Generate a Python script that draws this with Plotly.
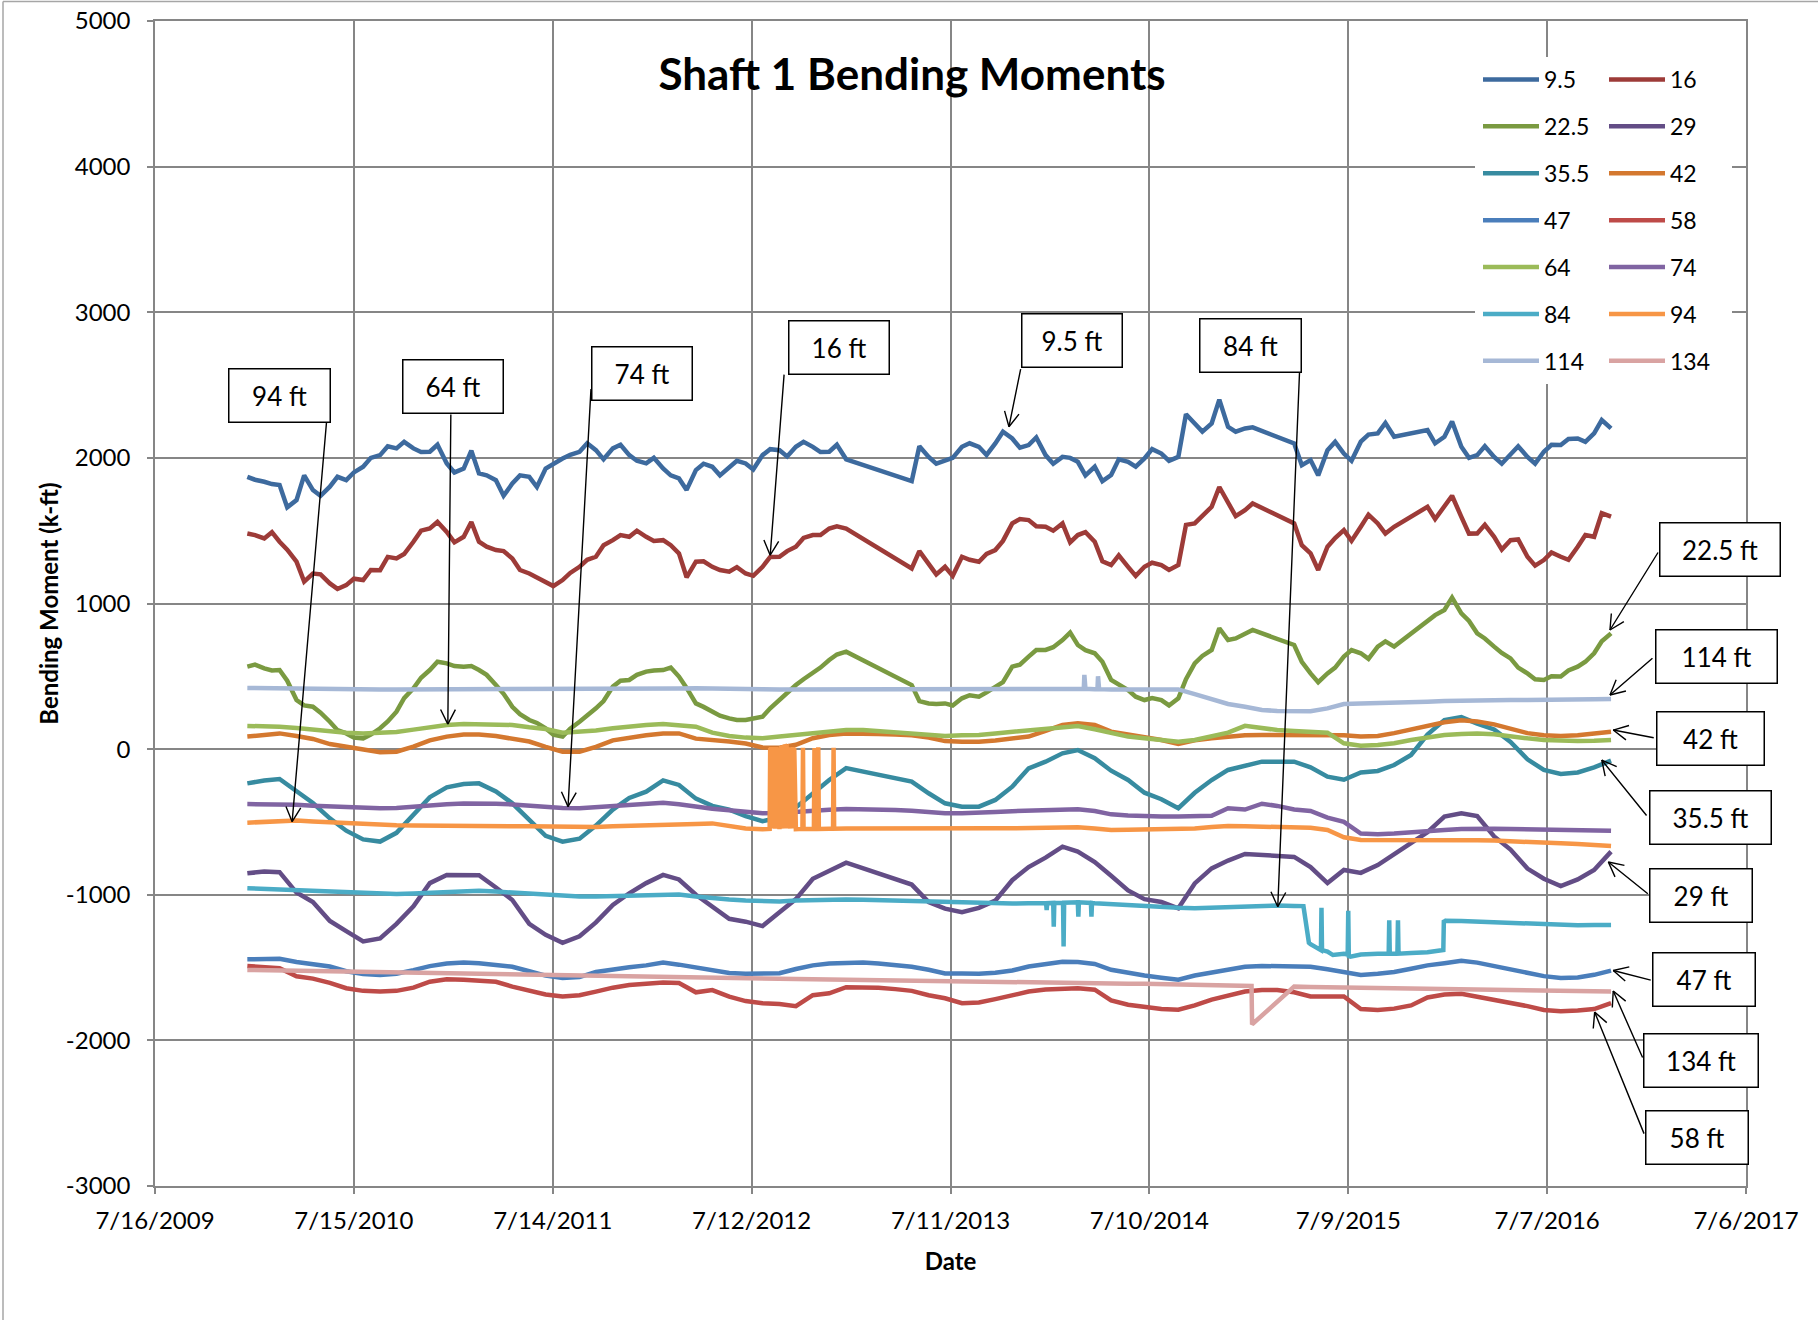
import math
import pandas as pd
import plotly.graph_objects as go

# ---------------------------------------------------------------------------
# Data: readings (k-ft) per gauge depth, Jan 2010 - Nov 2016.
# Monthly values fall on the 1st; the three shallow gauges also carry a
# mid-month (15th) reading.  None marks a missing reading (line is bridged).
# ---------------------------------------------------------------------------
months = pd.date_range("2010-01-01", "2016-11-01", freq="MS").strftime("%Y-%m-%d").tolist()
mid_months = [m[:8] + "15" for m in months]

depths = ["9.5", "16", "22.5", "29", "35.5", "42", "47", "58", "64", "74", "84", "94", "114", "134"]

s9_5 = [1870, 1836, 1813, 1710, 1779, 1802, 1847, 1939, 2019, 2065, 2065, 2042,
        1962, 1927, 1893, 1847, 1824, 1870, 1927, 1996, 2042, 2053, 2065, 2019,
        1962, 1927, 1859, 1916, 1939, 1939, 1962, 2019, 2053, 2076, 2076, 2042,
        1990, None, None, None, 1840, 2007, 1985, 2076, 2076, 2099, 2133, 2088,
        2019, 2007, 1973, 1939, 1882, 1973, 1996, 2030, 2007, 2236, 2236, 2213,
        2202, None, None, 2099, 1985, 2053, 2030, 2111, 2168, 2145, None, 2191,
        2145, 2076, 2019, 2007, 2019, 2007, 2042, 2088, 2133, 2168, 2202]
s9_5_mid = [1850, 1820, 1660, 1880, 1740, 1870, 1900, 2000, 2080, 2110, 2040, 2090,
            1900, 2050, 1880, 1740, 1880, 1800, 1960, 2020, 2100, 1990, 2090, 1980,
            2000, 1880, 1780, 1960, 1880, 1980, 1920, 2060, 2010, 2110, 2040, 2090,
            None, None, None, None, 2080, 1960, 2000, 2100, 2020, 2180, 2070, 2140,
            1960, 2000, 1880, 1840, 1990, 1940, 2060, 1980, 2300, 2180, 2400, 2180,
            2210, None, None, 1950, 1880, 2110, 1980, 2160, 2240, None, None, 2100,
            2250, 2000, 2080, 1960, 2080, 1960, 2090, 2130, 2110, 2260, None]

s16 = [1481, 1447, 1424, 1287, 1206, 1138, 1126, 1161, 1229, 1309, 1424, 1515,
       1492, 1458, 1424, 1367, 1309, 1206, 1149, 1161, 1252, 1321, 1435, 1458,
       1458, 1435, 1344, 1287, 1252, 1218, 1206, 1252, 1321, 1390, 1470, 1515,
       1515, None, None, None, 1241, 1275, 1252, 1321, 1287, 1367, 1550, 1573,
       1527, 1550, 1470, 1424, 1264, 1252, 1252, 1264, 1264, 1550, 1664, 1687,
       1641, None, None, 1550, 1344, 1390, 1504, 1527, 1550, 1527, None, 1664,
       1664, 1595, 1481, 1458, 1435, 1321, 1298, 1321, 1390, 1458, 1596]
s16_mid = [1470, 1490, 1370, 1150, 1200, 1100, 1170, 1230, 1320, 1340, 1500, 1560,
           1420, 1560, 1390, 1360, 1230, 1180, 1120, 1210, 1300, 1400, 1470, 1500,
           1430, 1400, 1180, 1290, 1230, 1250, 1190, 1320, 1360, 1450, 1470, 1530,
           None, None, None, None, 1360, 1200, 1190, 1300, 1340, 1430, 1580, 1530,
           1500, 1420, 1490, 1290, 1330, 1190, 1280, 1230, 1540, 1600, 1800, 1600,
           1687, None, None, 1400, 1230, 1450, 1430, 1610, 1480, None, None, 1580,
           1740, 1480, 1540, 1370, 1440, 1260, 1350, 1300, 1470, 1620, None]

s22_5 = [566, 555, 543, 337, 291, 188, 108, 74, 143, 257, 417, 543,
         589, 566, 543, 440, 291, 200, 143, 86, 188, 280, 429, 475,
         532, 543, 498, 314, 257, 211, 200, 223, 337, 440, 520, 612,
         669, None, None, None, 440, 314, 314, 349, 360, 429, 566, 635,
         681, 749, 715, 658, 475, 406, 337, 337, 349, 589, 681, 749,
         795, None, None, 715, 520, 520, 635, 658, 704, 704, None, 887,
         955, 932, 795, 704, 623, 520, 475, 498, 566, 658, 795]
s22_5_mid = [580, 540, 470, 300, 250, 130, 80, 100, 190, 350, 490, 600,
             570, 570, 510, 380, 240, 180, 100, 140, 230, 330, 470, 510,
             540, 560, 420, 290, 230, 200, 210, 280, 390, 480, 560, 650,
             None, None, None, None, 330, 310, 300, 370, 390, 460, 580, 680,
             700, 800, 680, 600, 440, 360, 350, 300, 480, 640, 830, 760,
             818, None, None, 600, 460, 560, 680, 620, 740, None, None, 920,
             1040, 880, 760, 660, 560, 480, 500, 540, 600, 740, None]

s29 = [-853, -840, -845, -985, -1050, -1180, -1250, -1320, -1300, -1200, -1080, -920,
       -864, -864, -866, -950, -1036, -1200, -1275, -1330, -1285, -1190, -1070, -990,
       -920, -864, -895, -1000, -1080, -1165, -1185, -1215, -1120, -1030, -890, -840,
       -780, None, None, None, -930, -1050, -1095, -1120, -1090, -1040, -900, -810,
       -745, -670, -704, -775, -870, -970, -1030, -1050, -1093, -922, -819, -765,
       -720, None, None, -740, -810, -920, -830, -850, -796, -720, -650, -570,
       -463, -440, -460, -600, -690, -820, -890, -940, -895, -830, -704]

s35_5 = [-235, -215, -205, -290, -370, -475, -560, -620, -635, -575, -450, -330,
         -262, -240, -235, -290, -372, -480, -595, -635, -615, -525, -415, -335,
         -292, -215, -246, -340, -390, -415, -460, -495, -470, -400, -303, -212,
         -130, None, None, None, -223, -303, -372, -395, -395, -349, -258, -132,
         -86, -29, -6, -63, -148, -212, -299, -344, -406, -300, -212, -143,
         -116, -86, -86, -86, -125, -189, -210, -160, -150, -109, -40, 100,
         200, 220, 175, 135, 50, -70, -143, -170, -160, -125, -79]

s42 = [86, 100, 108, 90, 70, 35, 15, -8, -22, -18, 17, 60,
       86, 100, 100, 90, 74, 52, 15, -18, -18, 15, 60, 80,
       95, 108, 108, 72, 65, 52, 38, 12, 10, 30, 75, 97,
       108, 108, 104, 100, 95, 80, 55, 51, 51, 60, 70, 86,
       125, 166, 177, 166, 120, 100, 82, 63, 35, 60, 75, 86,
       95, 97, 97, 97, 95, 90, 95, 86, 90, 110, 135, 155,
       185, 198, 190, 170, 140, 110, 95, 90, 95, 105, 120]

s47 = [-1443, -1438, -1440, -1462, -1477, -1493, -1525, -1545, -1551, -1542, -1518, -1490,
       -1472, -1466, -1470, -1485, -1495, -1525, -1555, -1572, -1565, -1530, -1510, -1498,
       -1485, -1466, -1480, -1500, -1520, -1537, -1542, -1544, -1539, -1510, -1485, -1472,
       -1466, -1466, -1472, -1482, -1495, -1515, -1540, -1541, -1543, -1535, -1520, -1493,
       -1475, -1460, -1462, -1475, -1515, -1539, -1555, -1570, -1583, -1555, -1533, -1514,
       -1495, -1489, -1489, -1489, -1495, -1512, -1535, -1551, -1543, -1530, -1508, -1485,
       -1470, -1453, -1466, -1490, -1515, -1535, -1559, -1572, -1568, -1550, -1521]

s58 = [-1489, -1494, -1505, -1560, -1576, -1605, -1642, -1660, -1665, -1660, -1638, -1597,
       -1580, -1583, -1588, -1598, -1631, -1660, -1685, -1699, -1690, -1665, -1638, -1620,
       -1610, -1603, -1606, -1670, -1655, -1700, -1730, -1745, -1750, -1765, -1690, -1677,
       -1635, -1633, -1638, -1648, -1660, -1690, -1711, -1745, -1740, -1717, -1690, -1665,
       -1650, -1642, -1642, -1652, -1725, -1755, -1772, -1785, -1790, -1760, -1720, -1690,
       -1665, -1654, -1654, -1670, -1699, -1699, -1699, -1785, -1791, -1782, -1760, -1705,
       -1685, -1680, -1699, -1718, -1740, -1765, -1791, -1800, -1795, -1785, -1745]

s64 = [159, 157, 154, 145, 134, 122, 113, 108, 110, 118, 134, 150,
       165, 172, 172, 170, 166, 150, 138, 113, 118, 128, 143, 155,
       166, 172, 166, 154, 113, 90, 79, 74, 86, 97, 108, 120,
       131, 131, 124, 115, 108, 97, 90, 95, 97, 108, 120, 131,
       143, 154, 159, 136, 108, 86, 74, 63, 51, 63, 86, 113,
       160, 143, 131, 124, 120, 113, 40, 24, 28, 40, 63, 81,
       97, 104, 108, 102, 92, 74, 63, 56, 56, 58, 63]

s74 = [-377, -377, -378, -382, -388, -393, -398, -403, -406, -405, -395, -385,
       -378, -373, -372, -375, -380, -390, -398, -405, -406, -400, -392, -383,
       -375, -368, -378, -398, -410, -420, -432, -440, -438, -430, -420, -416,
       -412, -412, -414, -418, -424, -435, -440, -440, -438, -432, -426, -422,
       -418, -414, -413, -425, -448, -455, -460, -463, -462, -460, -457, -406,
       -415, -375, -390, -415, -425, -470, -500, -580, -585, -580, -570, -562,
       -555, -548, -544, -546, -549, -551, -553, -555, -557, -559, -560]

s84 = [-955, -960, -965, -970, -976, -980, -983, -988, -992, -995, -992, -988,
       -980, -975, -972, -978, -985, -992, -1000, -1010, -1012, -1012, -1008, -1002,
       -998, -995, -998, -1012, -1025, -1033, -1040, -1046, -1046, -1040, -1036, -1032,
       -1032, -1035, -1038, -1040, -1043, -1047, -1050, -1055, -1058, -1060, -1060, -1058,
       -1058, -1055, -1052, -1058, -1065, -1072, -1078, -1085, -1090, -1093, -1088, -1082,
       -1076, -1074, -1074, -1077, -1340, -1390, -1405, -1410, -1405, -1405, -1400, -1395,
       -1178, -1180, -1185, -1190, -1195, -1200, -1205, -1208, -1210, -1208, -1207]

s94 = [-505, -500, -490, -490, -497, -503, -510, -516, -520, -523, -525, -527,
       -528, -529, -530, -531, -530, -530, -532, -535, -536, -534, -530, -528,
       -527, -526, -522, -515, -510, -525, -545, -550, -550, -550, -548, -546,
       -545, -544, -544, -544, -544, -544, -540, -540, -542, -544, -544, -544,
       -543, -540, -537, -545, -555, -553, -551, -551, -549, -545, -535, -528,
       -530, -532, -532, -532, -540, -555, -605, -624, -624, -622, -620, -619,
       -621, -624, -625, -628, -631, -635, -640, -647, -652, -658, -665]

s114 = [420, 418, 416, 415, 414, 412, 412, 410, 410, 410, 410, 410,
        410, 410, 410, 410, 410, 410, 410, 410, 410, 412, 412, 412,
        414, 414, 416, 418, 418, 418, 415, 412, 410, 410, 410, 410,
        410, 410, 410, 410, 410, 410, 410, 410, 410, 410, 410, 410,
        410, 412, 415, 412, 410, 410, 410, 410, 410, 378, 342, 310,
        291, 269, 262, 260, 260, 280, 310, 314, 319, 321, 324, 326,
        330, 333, 335, 335, 337, 337, 340, 340, 342, 342, 344]

s134 = [-1516, -1518, -1521, -1524, -1527, -1529, -1532, -1535, -1537, -1539, -1541, -1543,
        -1545, -1546, -1547, -1548, -1550, -1551, -1552, -1553, -1555, -1557, -1559, -1561,
        -1563, -1565, -1567, -1569, -1571, -1573, -1575, -1576, -1578, -1579, -1580, -1582,
        -1583, -1584, -1585, -1587, -1590, -1594, -1596, -1597, -1598, -1599, -1600, -1601,
        -1602, -1603, -1605, -1607, -1609, -1611, -1612, -1614, -1616, -1617, -1619, -1622,
        -1625, None, None, -1631, -1633, -1635, -1637, -1639, -1641, -1643, -1645, -1646,
        -1648, -1649, -1651, -1652, -1654, -1655, -1657, -1658, -1660, -1662, -1665]

# Short-lived readings between the regular samples (spikes and steps).
s84_extra = [("2014-01-02", -1058), ("2014-01-03", -1105), ("2014-01-04", -1058),
             ("2014-01-15", -1056), ("2014-01-16", -1220), ("2014-01-17", -1056),
             ("2014-02-02", -1055), ("2014-02-03", -1356), ("2014-02-04", -1055),
             ("2014-03-01", -1052), ("2014-03-02", -1150), ("2014-03-03", -1052),
             ("2014-03-25", -1056), ("2014-03-26", -1150), ("2014-03-27", -1056),
             ("2015-04-18", -1078), ("2015-04-28", -1330),
             ("2015-05-20", -1380), ("2015-05-21", -1090), ("2015-05-22", -1380),
             ("2015-06-11", -1414),
             ("2015-07-08", -1410), ("2015-07-09", -1110), ("2015-07-10", -1420),
             ("2015-07-13", -1425),
             ("2015-09-21", -1405), ("2015-09-22", -1175), ("2015-09-23", -1405),
             ("2015-10-07", -1405), ("2015-10-08", -1175), ("2015-10-09", -1405),
             ("2015-12-30", -1380), ("2015-12-31", -1175)]

s94_extra = [("2012-08-14", -548), ("2012-08-15", 10), ("2012-08-16", -545), ("2012-08-17", 14),
             ("2012-08-18", -540), ("2012-08-19", 8), ("2012-08-20", -545), ("2012-08-21", 12),
             ("2012-08-22", -542), ("2012-08-23", 10), ("2012-08-24", -546), ("2012-08-25", 14),
             ("2012-08-26", -540), ("2012-08-27", 9), ("2012-08-28", -544), ("2012-08-29", 12),
             ("2012-08-30", -541), ("2012-08-31", 10),
             ("2012-09-02", 13), ("2012-09-03", -545), ("2012-09-04", 9), ("2012-09-05", -542),
             ("2012-09-06", 12), ("2012-09-07", -546), ("2012-09-08", 10), ("2012-09-09", -540),
             ("2012-09-10", 14), ("2012-09-11", -544), ("2012-09-12", 8), ("2012-09-13", -541),
             ("2012-09-14", 12), ("2012-09-15", -545), ("2012-09-16", 10), ("2012-09-17", -543),
             ("2012-09-18", 13), ("2012-09-19", -540), ("2012-09-20", 9), ("2012-09-21", -546),
             ("2012-09-22", 12), ("2012-09-23", -542), ("2012-09-24", 10), ("2012-09-25", -545),
             ("2012-09-26", 14), ("2012-09-27", -541), ("2012-09-28", 9), ("2012-09-29", -548),
             ("2012-10-13", -548), ("2012-10-14", 10), ("2012-10-15", -548),
             ("2012-11-03", -548), ("2012-11-04", 8), ("2012-11-05", -548),
             ("2012-11-10", -548), ("2012-11-11", 12), ("2012-11-12", -548),
             ("2012-12-08", -547), ("2012-12-09", 10), ("2012-12-10", -547)]

s114_extra = [("2014-03-12", 414), ("2014-03-13", 510), ("2014-03-15", 414),
              ("2014-04-06", 412), ("2014-04-07", 500), ("2014-04-09", 412)]

s134_extra = [("2015-01-13", -1626), ("2015-01-14", -1890), ("2015-03-29", -1631)]

x_tick_vals = ["2009-07-16", "2010-07-15", "2011-07-14", "2012-07-12", "2013-07-11",
               "2014-07-10", "2015-07-09", "2016-07-07", "2017-07-06"]
x_tick_text = ["7/16/2009", "7/15/2010", "7/14/2011", "7/12/2012", "7/11/2013",
               "7/10/2014", "7/9/2015", "7/7/2016", "7/6/2017"]
y_tick_vals = [-3000, -2000, -1000, 0, 1000, 2000, 3000, 4000, 5000]
y_tick_text = ["-3000", "-2000", "-1000", "0", "1000", "2000", "3000", "4000", "5000"]

series_values = {"9.5": s9_5, "16": s16, "22.5": s22_5, "29": s29, "35.5": s35_5,
                 "42": s42, "47": s47, "58": s58, "64": s64, "74": s74,
                 "84": s84, "94": s94, "114": s114, "134": s134}
series_mid = {"9.5": s9_5_mid, "16": s16_mid, "22.5": s22_5_mid}
series_extra = {"84": s84_extra, "94": s94_extra, "114": s114_extra, "134": s134_extra}

# ---------------------------------------------------------------------------
# Styling
# ---------------------------------------------------------------------------
colors = {"9.5": "#3D6A9E", "16": "#9D3B38", "22.5": "#7A9A41", "29": "#634D86",
          "35.5": "#378BA0", "42": "#D4782F", "47": "#4A7EBB", "58": "#BE4B48",
          "64": "#9BBB59", "74": "#8064A2", "84": "#4BACC6", "94": "#F79646",
          "114": "#A6B8D6", "134": "#D9A3A2"}

FONT = "Lato"
GRID = "#868686"
W, H = 1818, 1320
ML, MR, MT, MB = 155, 72, 21, 134
PW, PH = W - ML - MR, H - MT - MB


def paper_x(px):
    return (px - ML) / PW


def paper_y(py):
    return (H - MB - py) / PH


def merged(name):
    pts = list(zip(months, series_values[name]))
    if name in series_mid:
        pts += list(zip(mid_months, series_mid[name]))
    pts += list(series_extra.get(name, []))
    pts.sort(key=lambda p: p[0])
    return [p[0] for p in pts], [p[1] for p in pts]


fig = go.Figure()

left_col = ["9.5", "22.5", "35.5", "47", "64", "84", "114"]
for name in depths:
    xs, ys = merged(name)
    fig.add_trace(go.Scatter(
        x=xs, y=ys, name=name, mode="lines", connectgaps=True,
        line=dict(color=colors[name], width=4.5),
        legendgroup=name,
        legend="legend" if name in left_col else "legend2",
        hoverinfo="skip",
    ))

legend_style = dict(
    bgcolor="rgba(255,255,255,0)", borderwidth=0,
    font=dict(family=FONT, size=23, color="black"),
    tracegroupgap=14, itemwidth=56, xanchor="left", yanchor="top",
    traceorder="grouped",
)

# ---------------------------------------------------------------------------
# Callouts: label, box centre (px), box width (px), arrow head (date, value),
# arrow tail as a pixel offset from the head.
# ---------------------------------------------------------------------------
callouts = [
    ("94 ft", (279, 396), 103, ("2010-03-24", -498), (37, -430)),
    ("64 ft", (453, 386), 102, ("2011-01-03", 172), (3, -311)),
    ("74 ft", (642, 373), 102, ("2011-08-11", -395), (23, -419)),
    ("16 ft", (839, 347), 102, ("2012-08-15", 1332), (14, -182)),
    ("9.5 ft", (1072, 340), 102, ("2013-10-26", 2214), (12, -59)),
    ("84 ft", (1250, 346), 103, ("2015-03-02", -1082), (23, -565)),
    ("22.5 ft", (1720, 549), 122, ("2016-10-30", 818), (49, -79)),
    ("114 ft", (1716, 656), 123, ("2016-10-30", 372), (44, -38)),
    ("42 ft", (1710, 739), 109, ("2016-11-05", 131), (42, 8)),
    ("35.5 ft", (1710, 818), 123, ("2016-10-15", -75), (46, 57)),
    ("29 ft", (1701, 895), 104, ("2016-10-27", -775), (41, 33)),
    ("47 ft", (1704, 980), 104, ("2016-11-05", -1520), (39, 10)),
    ("134 ft", (1701, 1060), 116, ("2016-11-05", -1661), (30, 68)),
    ("58 ft", (1697, 1137), 104, ("2016-10-02", -1806), (50, 123)),
]

BARB_LEN, BARB_ANGLE = 18, math.radians(27)


def arrow_line(head, dx, dy):
    return dict(x=head[0], y=head[1], xref="x", yref="y",
                ax=dx, ay=dy, axref="pixel", ayref="pixel",
                text="", font=dict(size=1), showarrow=True, arrowhead=0,
                arrowwidth=1.4, arrowcolor="black", standoff=0, startstandoff=0)


annotations = []
for label, (cx, cy), bw, head, (dx, dy) in callouts:
    annotations.append(arrow_line(head, dx, dy))
    length = math.hypot(dx, dy)
    ux, uy = dx / length, dy / length
    for sgn in (1, -1):
        a = sgn * BARB_ANGLE
        bx = (ux * math.cos(a) - uy * math.sin(a)) * BARB_LEN
        by = (ux * math.sin(a) + uy * math.cos(a)) * BARB_LEN
        annotations.append(arrow_line(head, bx, by))
for label, (cx, cy), bw, head, _ in callouts:
    annotations.append(dict(
        x=paper_x(cx), y=paper_y(cy), xref="paper", yref="paper",
        xanchor="center", yanchor="middle", showarrow=False,
        text=label, font=dict(family=FONT, size=26, color="black"),
        width=bw - 3, height=52, align="center", valign="middle",
        bgcolor="white", bordercolor="black", borderwidth=1.5, borderpad=0,
    ))

axis_common = dict(
    showgrid=True, gridcolor=GRID, gridwidth=1.5,
    showline=True, linecolor=GRID, linewidth=1.5, mirror=True,
    ticks="outside", ticklen=6, tickcolor=GRID, tickwidth=1.5,
    tickfont=dict(family=FONT, size=24, color="black"),
    zeroline=False, automargin=False,
)

fig.update_xaxes(
    type="date", range=[x_tick_vals[0], x_tick_vals[-1]],
    tickmode="array", tickvals=x_tick_vals, ticktext=x_tick_text,
    ticklabelstandoff=6,
    title=dict(text="Date", font=dict(family=FONT, size=24, color="black", weight="bold"), standoff=21),
    **axis_common,
)
fig.update_yaxes(
    range=[-3000, 5000], tickmode="array", tickvals=y_tick_vals, ticktext=y_tick_text,
    ticklabelstandoff=12,
    title=dict(text="Bending Moment (k-ft)", font=dict(family=FONT, size=24, color="black", weight="bold"), standoff=0),
    **axis_common,
)

fig.update_layout(
    width=W, height=H,
    margin=dict(l=ML, r=MR, t=MT, b=MB, autoexpand=False),
    template="none",
    plot_bgcolor="white", paper_bgcolor="white",
    title=dict(text="Shaft 1 Bending Moments", x=paper_x(912), xref="paper", xanchor="center",
               y=1 - 75 / H, yref="container", yanchor="middle",
               font=dict(family=FONT, size=44, color="black", weight="bold")),
    showlegend=True,
    legend=dict(x=paper_x(1478), y=paper_y(58), **legend_style),
    legend2=dict(x=paper_x(1604), y=paper_y(58), **legend_style),
    annotations=annotations,
    shapes=[
        # white panel behind the legend
        dict(type="rect", xref="paper", yref="paper", layer="above",
             x0=paper_x(1475), x1=paper_x(1732), y0=paper_y(384), y1=paper_y(57),
             fillcolor="white", line=dict(width=0)),
        # chart-area frame (left and top edges)
        dict(type="line", xref="paper", yref="paper", layer="above",
             x0=paper_x(3), x1=paper_x(3), y0=paper_y(H), y1=paper_y(1.5),
             line=dict(color="#A6A6A6", width=1.5)),
        dict(type="line", xref="paper", yref="paper", layer="above",
             x0=paper_x(3), x1=paper_x(W), y0=paper_y(1.5), y1=paper_y(1.5),
             line=dict(color="#A6A6A6", width=1.5)),
    ],
)

fig.write_html("out.html")
